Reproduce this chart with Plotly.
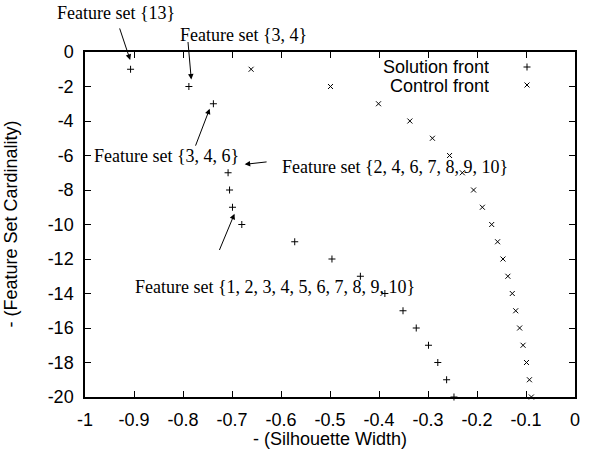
import plotly.graph_objects as go

# Solution front (+): silhouette width term vs. feature set cardinality
sol_x = [-0.907, -0.788, -0.738, -0.708, -0.705, -0.699, -0.680, -0.572, -0.496,
         -0.438, -0.388, -0.351, -0.324, -0.299, -0.280, -0.262, -0.247]
sol_y = [-1, -2, -3, -7, -8, -9, -10, -11, -12, -13, -14, -15, -16, -17, -18, -19, -20]

# Control front (x)
ctl_x = [-0.661, -0.499, -0.401, -0.337, -0.291, -0.256, -0.230, -0.207, -0.189, -0.170,
         -0.158, -0.147, -0.137, -0.128, -0.121, -0.113, -0.106, -0.099, -0.093, -0.089]
ctl_y = [-1, -2, -3, -4, -5, -6, -7, -8, -9, -10,
         -11, -12, -13, -14, -15, -16, -17, -18, -19, -20]

x_ticks = [-1, -0.9, -0.8, -0.7, -0.6, -0.5, -0.4, -0.3, -0.2, -0.1, 0]
x_ticktext = ["-1", "-0.9", "-0.8", "-0.7", "-0.6", "-0.5", "-0.4", "-0.3", "-0.2", "-0.1", "0"]
y_ticks = [0, -2, -4, -6, -8, -10, -12, -14, -16, -18, -20]
y_ticktext = ["0", "-2", "-4", "-6", "-8", "-10", "-12", "-14", "-16", "-18", "-20"]

legend_names = ["Solution front", "Control front"]

# Callouts: (label, index into solution front, label centre in px, arrow head shift, tail offset)
callouts = [
    ("Feature set {13}", 0, (116, 13), (-0.4, 9.3), (-11, -33)),
    ("Feature set {3, 4}", 1, (243.5, 35), (2.4, 7), (-3.4, -39)),
    ("Feature set {3, 4, 6}", 2, (166, 156), (-3.7, -5), (-14.7, 38.4)),
    ("Feature set {2, 4, 6, 7, 8, 9, 10}", 3, (395, 167), (16.6, 8.4), (23.4, -2.6)),
    ("Feature set {1, 2, 3, 4, 5, 6, 7, 8, 9, 10}", 6, (275, 287), (-7.3, 10.7), (-15.7, 37.7)),
]

W, H = 590, 456
L, R, T, B = 85, 15, 52, 59
PW, PH = W - L - R, H - T - B


def px_to_paper(px, py):
    return (px - L) / PW, (H - B - py) / PH


SANS = "Liberation Sans, Arial, sans-serif"
SERIF = "Liberation Serif, Times New Roman, serif"

fig = go.Figure()
fig.add_trace(go.Scatter(
    x=sol_x, y=sol_y, mode="markers", name=" ", legend="legend",
    marker=dict(symbol="cross-thin", size=5, line=dict(width=1, color="black"), color="black"),
    cliponaxis=False,
))
fig.add_trace(go.Scatter(
    x=ctl_x, y=ctl_y, mode="markers", name=" ", legend="legend2",
    marker=dict(symbol="x-thin", size=5, line=dict(width=1, color="black"), color="black"),
    cliponaxis=False,
))

annotations = []
for text, idx, (cx, cy), (sx, sy), (tx, ty) in callouts:
    px, py = px_to_paper(cx, cy)
    annotations.append(dict(
        text=text, xref="paper", yref="paper", x=px, y=py,
        xanchor="center", yanchor="middle", showarrow=False,
        font=dict(family=SERIF, size=18, color="black"),
    ))
    annotations.append(dict(
        text="", x=sol_x[idx], y=sol_y[idx], xref="x", yref="y",
        xshift=sx, yshift=sy, ax=tx, ay=ty, showarrow=True,
        arrowhead=2, arrowsize=1.1, arrowwidth=1, arrowcolor="black", standoff=0,
    ))

# Legend labels, right-aligned to the left of the keys
for name, ly in zip(legend_names, [67, 85]):
    px, py = px_to_paper(491, ly)
    annotations.append(dict(
        text=name, xref="paper", yref="paper", x=px, y=py, height=17,
        xanchor="right", yanchor="middle", showarrow=False,
        font=dict(family=SANS, size=18, color="black"),
    ))

# Axis titles
tx, ty = px_to_paper(330, 439)
annotations.append(dict(
    text="- (Silhouette Width)", xref="paper", yref="paper", x=tx, y=ty,
    xanchor="center", yanchor="middle", showarrow=False,
    font=dict(family=SANS, size=18, color="black"),
))
tx, ty = px_to_paper(10, 224.5)
annotations.append(dict(
    text="- (Feature Set Cardinality)", xref="paper", yref="paper", x=tx, y=ty,
    xanchor="center", yanchor="middle", showarrow=False, textangle=-90,
    font=dict(family=SANS, size=18, color="black"),
))

axis_common = dict(
    showgrid=False, zeroline=False, showline=True, linecolor="black", linewidth=1.5,
    mirror="ticks", ticks="inside", ticklen=6, tickwidth=1, tickcolor="black",
    tickfont=dict(family=SANS, size=18, color="black"), ticklabelstandoff=6,
)

lg1x, lg1y = px_to_paper(507, 67)
lg2x, lg2y = px_to_paper(507, 85)
legend_common = dict(bgcolor="rgba(0,0,0,0)", borderwidth=0, xanchor="left", yanchor="middle",
                     font=dict(family=SANS, size=10, color="black"))

fig.update_layout(
    width=W, height=H,
    margin=dict(l=L, r=R, t=T, b=B, autoexpand=False),
    paper_bgcolor="white", plot_bgcolor="white",
    xaxis=dict(range=[-1, 0], tickvals=x_ticks, ticktext=x_ticktext, **axis_common),
    yaxis=dict(range=[-20, 0], tickvals=y_ticks, ticktext=y_ticktext, **axis_common),
    annotations=annotations,
    showlegend=True,
    legend=dict(x=lg1x, y=lg1y, **legend_common),
    legend2=dict(x=lg2x, y=lg2y, **legend_common),
)

fig.write_html("out.html")
